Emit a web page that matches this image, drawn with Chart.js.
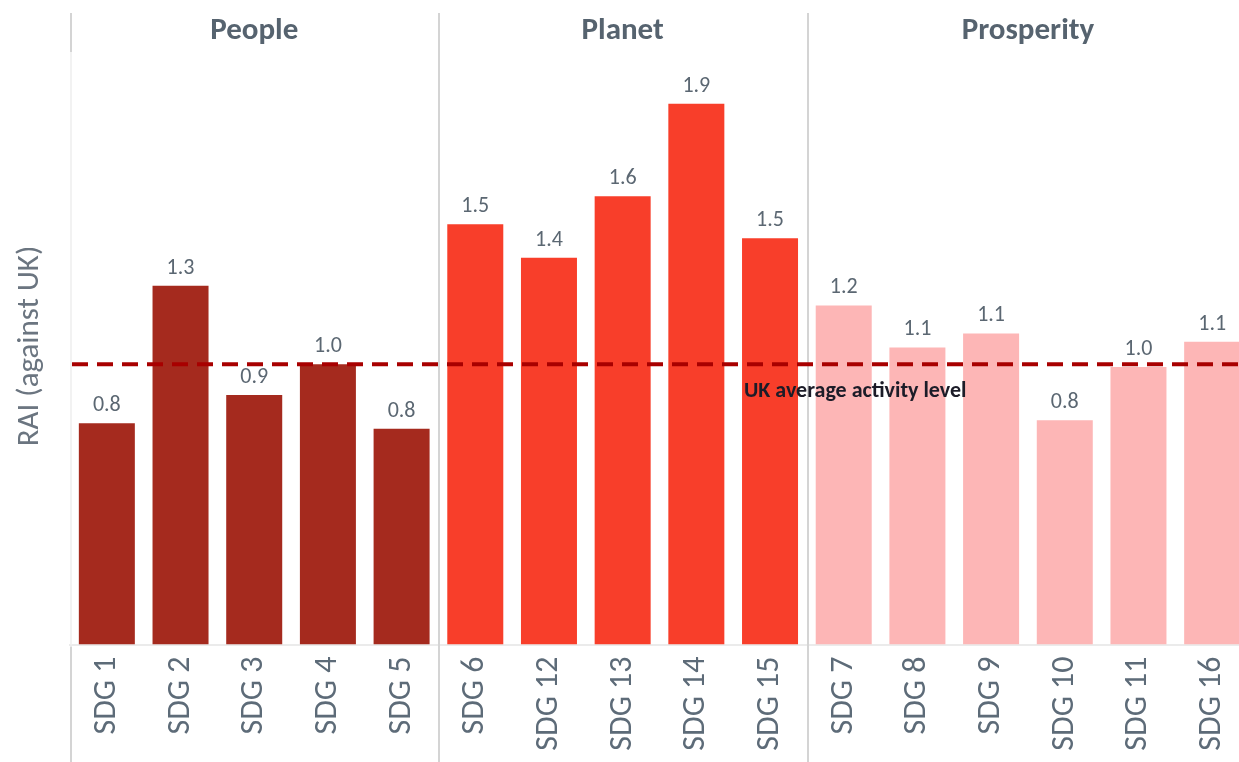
<!DOCTYPE html>
<html>
<head>
<meta charset="utf-8">
<script src="https://cdn.jsdelivr.net/npm/chart.js@4"></script>
<style>
  html, body { margin: 0; padding: 0; background: #fff; overflow: hidden; }
  #wrap { width: 1250px; height: 762px; }
</style>
</head>
<body>
<div id="wrap"><canvas id="chart" width="1250" height="762"></canvas></div>
<script>
// данные графика
const categories = ['SDG 1', 'SDG 2', 'SDG 3', 'SDG 4', 'SDG 5',
                    'SDG 6', 'SDG 12', 'SDG 13', 'SDG 14', 'SDG 15',
                    'SDG 7', 'SDG 8', 'SDG 9', 'SDG 10', 'SDG 11', 'SDG 16'];
const raiValues = [0.79, 1.28, 0.89, 1.0, 0.77,
                   1.5, 1.38, 1.6, 1.93, 1.45,
                   1.21, 1.06, 1.11, 0.8, 0.99, 1.08];
const valueLabels = ['0.8', '1.3', '0.9', '1.0', '0.8',
                     '1.5', '1.4', '1.6', '1.9', '1.5',
                     '1.2', '1.1', '1.1', '0.8', '1.0', '1.1'];
const groups = ['People', 'Planet', 'Prosperity'];
const groupSizes = [5, 5, 6];
const groupColors = ['#a52a1e', '#f83e2a', '#fdb6b6'];
const ukAverage = 1.0;

const FONT = 'Carlito, Lato, "Open Sans", sans-serif';

const barColors = [];
groupSizes.forEach((n, g) => { for (let i = 0; i < n; i++) barColors.push(groupColors[g]); });

// подписи, разделители групп и линия среднего
const decorPlugin = {
    id: 'decor',
    afterDatasetsDraw(chart) {
        const ctx = chart.ctx;
        const x = chart.scales.x, y = chart.scales.y;
        const area = chart.chartArea;
        const H = chart.height;

        // разделители групп
        const bounds = [];
        let idx = 0;
        bounds.push(x.getPixelForValue(0) - (x.getPixelForValue(1) - x.getPixelForValue(0)) / 2);
        groupSizes.forEach(n => {
            idx += n;
            if (idx < categories.length) bounds.push((x.getPixelForValue(idx - 1) + x.getPixelForValue(idx)) / 2);
        });
        ctx.save();
        ctx.lineWidth = 2;
        bounds.forEach((bx, i) => {
            const xx = Math.round(bx) + 1;
            if (i === 0) {
                ctx.strokeStyle = '#d4d4d4';
                ctx.beginPath(); ctx.moveTo(xx, 13); ctx.lineTo(xx, 52); ctx.stroke();
                ctx.beginPath(); ctx.moveTo(xx, area.bottom + 2); ctx.lineTo(xx, H); ctx.stroke();
                ctx.strokeStyle = '#f2f2f2';
                ctx.beginPath(); ctx.moveTo(xx, 52); ctx.lineTo(xx, area.bottom); ctx.stroke();
            } else {
                ctx.strokeStyle = '#d4d4d4';
                ctx.beginPath(); ctx.moveTo(xx, 13); ctx.lineTo(xx, H); ctx.stroke();
            }
        });
        ctx.restore();

        // заголовки групп
        ctx.save();
        ctx.fillStyle = '#56636f';
        ctx.font = '600 31px ' + FONT;
        ctx.textAlign = 'center';
        ctx.textBaseline = 'middle';
        let start = 0;
        groupSizes.forEach((n, g) => {
            const cx = (x.getPixelForValue(start) + x.getPixelForValue(start + n - 1)) / 2;
            ctx.fillText(groups[g], cx, 31);
            start += n;
        });
        ctx.restore();

        // значения над столбцами
        ctx.save();
        ctx.fillStyle = '#5b6772';
        ctx.font = '22px ' + FONT;
        ctx.textAlign = 'center';
        ctx.textBaseline = 'alphabetic';
        chart.getDatasetMeta(0).data.forEach((bar, i) => {
            ctx.fillText(valueLabels[i], bar.x, bar.y - 12);
        });
        ctx.restore();

        // линия среднего по UK
        const ly = y.getPixelForValue(ukAverage);
        ctx.save();
        ctx.strokeStyle = '#a80000';
        ctx.lineWidth = 4;
        ctx.setLineDash([16, 9]);
        ctx.beginPath();
        ctx.moveTo(bounds[0] + 2, ly);
        ctx.lineTo(chart.width, ly);
        ctx.stroke();
        ctx.setLineDash([]);
        ctx.fillStyle = '#1c1c28';
        ctx.font = 'bold 22px ' + FONT;
        ctx.textAlign = 'left';
        ctx.textBaseline = 'middle';
        ctx.fillText('UK average activity level', 744, ly + 27);
        ctx.restore();

        // подпись оси Y
        ctx.save();
        ctx.translate(30, 346);
        ctx.rotate(-Math.PI / 2);
        ctx.fillStyle = '#6b7580';
        ctx.font = '31px ' + FONT;
        ctx.textAlign = 'center';
        ctx.textBaseline = 'middle';
        ctx.fillText('RAI (against UK)', 0, 0);
        ctx.restore();
    }
};

new Chart(document.getElementById('chart').getContext('2d'), {
    type: 'bar',
    data: {
        labels: categories,
        datasets: [{
            label: 'RAI',
            data: raiValues,
            backgroundColor: barColors,
            borderWidth: 0,
            barPercentage: 0.76,
            categoryPercentage: 1.0
        }]
    },
    options: {
        responsive: false,
        animation: false,
        devicePixelRatio: 1,
        layout: { padding: { left: 70, right: 1, top: 0, bottom: 0 } },
        plugins: { legend: { display: false }, tooltip: { enabled: false } },
        scales: {
            x: {
                grid: { display: false, drawTicks: false },
                border: { display: true, color: '#ebebeb', width: 2 },
                ticks: {
                    autoSkip: false, maxRotation: 90, minRotation: 90,
                    padding: 12, color: '#5d6b78',
                    font: { family: FONT, size: 32 }
                },
                afterFit(scale) {
                    scale.height = 117.5;
                    scale.paddingLeft = 0;
                    scale.paddingRight = 0;
                }
            },
            y: {
                display: false,
                min: 0,
                max: 2.3
            }
        }
    },
    plugins: [decorPlugin]
});
</script>
</body>
</html>
